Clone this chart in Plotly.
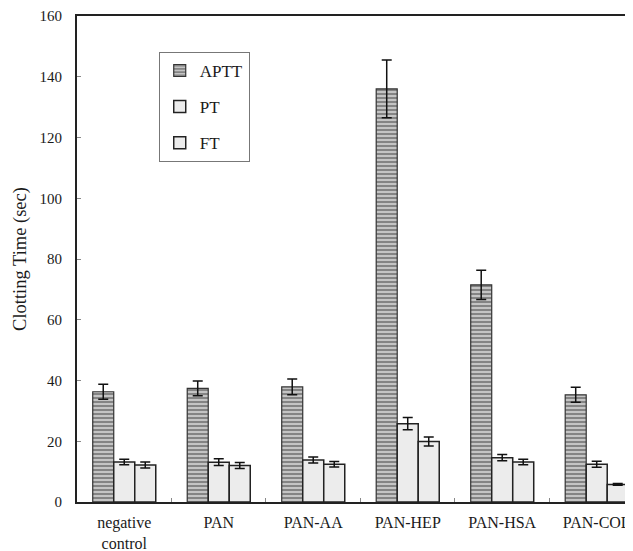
import plotly.graph_objects as go

categories = ["negative<br>control", "PAN", "PAN-AA", "PAN-HEP", "PAN-HSA", "PAN-COL"]
aptt = [36.3, 37.4, 37.9, 136.0, 71.5, 35.3]
aptt_err = [2.5, 2.4, 2.6, 9.5, 4.8, 2.5]
pt = [13.2, 13.1, 13.8, 25.8, 14.6, 12.4]
pt_err = [0.9, 1.1, 1.0, 2.0, 1.0, 1.0]
ft = [12.2, 12.0, 12.4, 19.9, 13.2, 5.8]
ft_err = [1.0, 1.0, 0.9, 1.5, 0.9, 0.3]
y_ticks = [0, 20, 40, 60, 80, 100, 120, 140, 160]

font_family = "Liberation Serif, Times New Roman, serif"

def err(vals):
    return dict(type="data", array=vals, visible=True, color="#111111", thickness=1.5, width=5)

fig = go.Figure()
fig.add_trace(go.Bar(
    name="APTT", x=categories, y=aptt, error_y=err(aptt_err), legendgroup="a",
    marker=dict(color="#a9a9a9", line=dict(color="#333333", width=1.2),
                pattern=dict(shape="-", fgcolor="#7d7d7d", bgcolor="#c4c4c4", size=4, solidity=0.45, fillmode="replace")),
))
fig.add_trace(go.Bar(
    name="PT", x=categories, y=pt, error_y=err(pt_err), legendgroup="b",
    marker=dict(color="#ececec", line=dict(color="#222222", width=1.5)),
))
fig.add_trace(go.Bar(
    name="FT", x=categories, y=ft, error_y=err(ft_err), legendgroup="c",
    marker=dict(color="#ececec", line=dict(color="#222222", width=1.5)),
))

# The page body has a default 8px margin, so the figure is sized to fit the window after it.
fig.update_layout(
    width=625, height=543,
    margin=dict(l=69, r=0, t=8, b=49, autoexpand=False),
    paper_bgcolor="white", plot_bgcolor="white",
    barmode="group", bargap=0.333, bargroupgap=0,
    font=dict(family=font_family, size=15, color="#1a1a1a"),
    showlegend=True,
    legend=dict(x=0.147, y=0.926, xanchor="left", yanchor="top",
                bordercolor="#777777", borderwidth=1, bgcolor="white",
                font=dict(family=font_family, size=17, color="#1a1a1a"),
                tracegroupgap=11, itemwidth=30),
    xaxis=dict(type="category", range=[-0.5, 5.384], showline=True, linecolor="#222222", linewidth=2,
               mirror=True, ticks="inside", tickson="boundaries", ticklen=4, tickcolor="#888888",
               showgrid=False, automargin=False,
               tickfont=dict(size=16, family=font_family), ticklabelstandoff=5),
    yaxis=dict(range=[0, 160], tickvals=y_ticks, showline=True, linecolor="#222222", linewidth=2,
               ticks="inside", ticklen=4, tickcolor="#888888", showgrid=False, zeroline=False,
               automargin=False,
               tickfont=dict(size=15, family=font_family), ticklabelstandoff=10,
               title=dict(text="Clotting Time (sec)", font=dict(size=18.5, family=font_family), standoff=8)),
)

fig.write_html("out.html")
